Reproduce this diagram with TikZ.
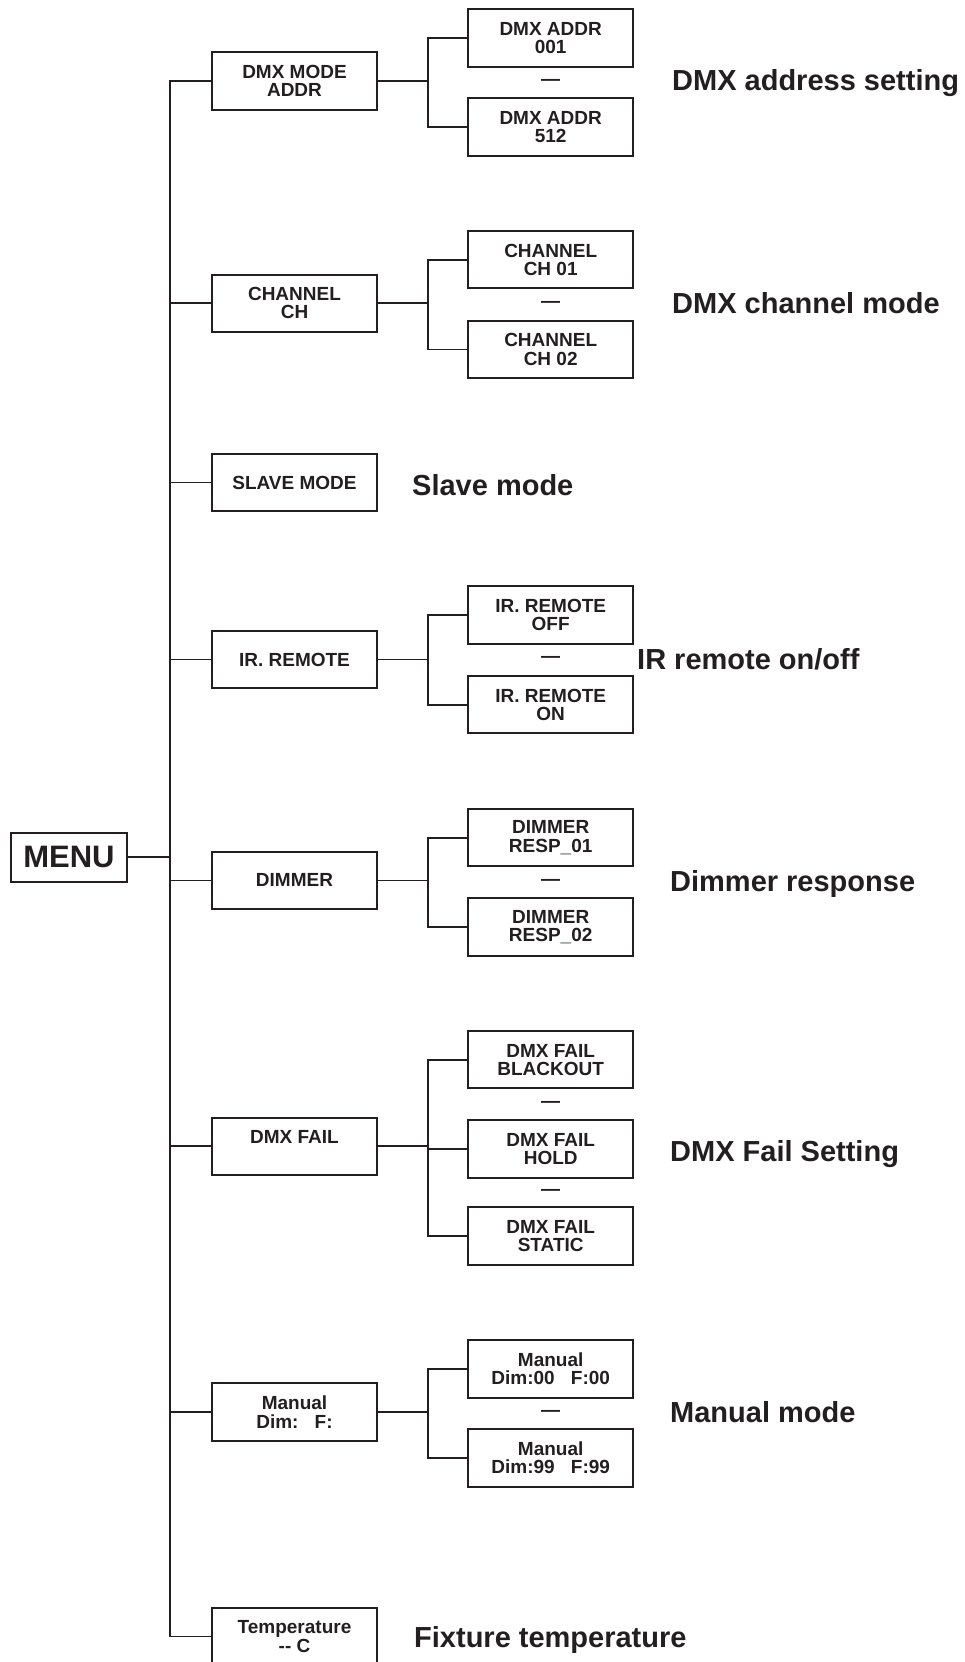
\documentclass[tikz,border=0pt]{standalone}
\usepackage{fontspec}
\setmainfont{Liberation Sans}
\usetikzlibrary{calc}
\definecolor{ink}{HTML}{231F20}
\newcommand\mybxfont{\fontsize{19}{18.3}\selectfont\bfseries}
\newcommand\mylblfont{\fontsize{29}{32}\selectfont\bfseries}
\begin{document}
\begin{tikzpicture}[x=1pt,y=-1pt,
  mainbox/.style={draw=ink, text=ink, line width=2pt, minimum width=165pt, minimum height=57.5pt, inner sep=0pt, align=center, font=\mybxfont},
  subbox/.style={mainbox},
  dashtxt/.style={text=ink, inner sep=0pt, font=\mybxfont},
  lbl/.style={text=ink, inner sep=0pt, anchor=base west, font=\mylblfont},
  conn/.style={draw=ink, line width=1.8pt}]
\useasboundingbox (0,0) rectangle (964,1662);
\clip (0,0) rectangle (964,1662);
\coordinate (spine) at (170,0);
\coordinate (subx) at (428,0);
% menu
\node[draw=ink, text=ink, line width=2pt, minimum width=116.5pt, minimum height=49pt, inner sep=0pt, font=\fontsize{31}{34}\selectfont\bfseries] (menu) at (69,857.2) {MENU};
% main boxes
\node[mainbox] (m1) at (294.5,81) {DMX MODE\\ADDR};
\node[mainbox] (m2) at (294.5,303.3) {CHANNEL\\CH};
\node[mainbox] (m3) at (294.5,482.5) {SLAVE MODE};
\node[mainbox] (m4) at (294.5,659.5) {IR. REMOTE};
\node[mainbox] (m5) at (294.5,880.4) {DIMMER};
\node[mainbox] (m6) at (294.5,1146.3) {DMX FAIL\\\phantom{X}};
\node[mainbox] (m7) at (294.5,1412) {Manual\\Dim:\hspace{0.85em}F:};
\node[mainbox] (m8) at (294.5,1636.4) {Temperature\\-{}- C};
% sub boxes
\node[subbox] (s11) at (550.7,37.8) {DMX ADDR\\001};
\node[subbox] (s12) at (550.7,127) {DMX ADDR\\512};
\node[subbox] (s21) at (550.7,259.7) {CHANNEL\\CH 01};
\node[subbox] (s22) at (550.7,349.5) {CHANNEL\\CH 02};
\node[subbox] (s41) at (550.7,615) {IR. REMOTE\\OFF};
\node[subbox] (s42) at (550.7,704.7) {IR. REMOTE\\ON};
\node[subbox] (s51) at (550.7,837.6) {DIMMER\\RESP\_01};
\node[subbox] (s52) at (550.7,926.8) {DIMMER\\RESP\_02};
\node[subbox] (s61) at (550.7,1059.7) {DMX FAIL\\BLACKOUT};
\node[subbox] (s62) at (550.7,1149) {DMX FAIL\\HOLD};
\node[subbox] (s63) at (550.7,1236) {DMX FAIL\\STATIC};
\node[subbox] (s71) at (550.7,1369) {Manual\\Dim:00\hspace{0.85em}F:00};
\node[subbox] (s72) at (550.7,1458) {Manual\\Dim:99\hspace{0.85em}F:99};
% dashes
\node[dashtxt] (d1) at ($(s11.south)!0.5!(s12.north)$) {—};
\node[dashtxt] (d2) at ($(s21.south)!0.5!(s22.north)$) {—};
\node[dashtxt] (d4) at ($(s41.south)!0.5!(s42.north)$) {—};
\node[dashtxt] (d5) at ($(s51.south)!0.5!(s52.north)$) {—};
\node[dashtxt] (d61) at ($(s61.south)!0.5!(s62.north)$) {—};
\node[dashtxt] (d62) at ($(s62.south)!0.5!(s63.north)$) {—};
\node[dashtxt] (d7) at ($(s71.south)!0.5!(s72.north)$) {—};
% labels
\node[lbl] (l1) at (672,90) {DMX address setting};
\node[lbl] (l2) at (672,313.3) {DMX channel mode};
\node[lbl] (l3) at (412,495) {Slave mode};
\node[lbl] (l4) at (637,669) {IR remote on/off};
\node[lbl] (l5) at (670,891) {Dimmer response};
\node[lbl] (l6) at (670,1161) {DMX Fail Setting};
\node[lbl] (l7) at (670,1422) {Manual mode};
\node[lbl] (l8) at (414,1647) {Fixture temperature};
% spine
\draw[conn] (menu.east) -- (menu.east -| spine);
\draw[conn] (m1.west) -- (m1.west -| spine) -- (m8.west -| spine) -- (m8.west);
\foreach \m in {m2,m3,m4,m5,m6,m7}{\draw[conn] (\m.west) -- (\m.west -| spine);}
% sub connectors
\foreach \m/\a/\b in {m1/s11/s12, m2/s21/s22, m4/s41/s42, m5/s51/s52, m6/s61/s63, m7/s71/s72}{
  \draw[conn] (\m.east) -- (\m.east -| subx);
  \draw[conn] (\a.west) -- (\a.west -| subx) -- (\b.west -| subx) -- (\b.west);
}
\draw[conn] (s62.west) -- (s62.west -| subx);
\end{tikzpicture}
\end{document}
